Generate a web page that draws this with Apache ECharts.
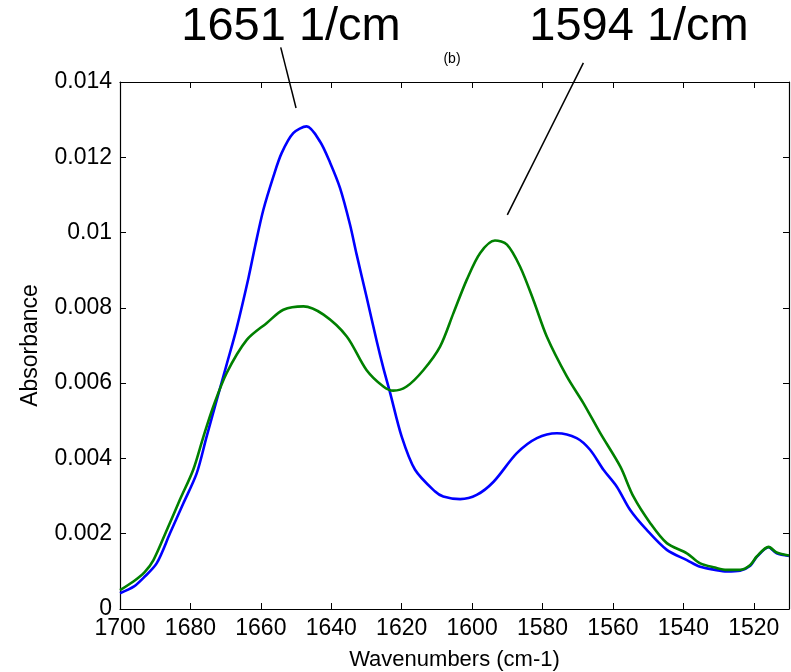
<!DOCTYPE html>
<html>
<head>
<meta charset="utf-8">
<script src="https://cdn.jsdelivr.net/npm/echarts@6/dist/echarts.min.js"></script>
<style>
html,body{margin:0;padding:0;background:#fff;}
#c{width:791px;height:672px;}
</style>
</head>
<body>
<div id="c"></div>
<script>
// ---- data ----
const xTicks = [1700, 1680, 1660, 1640, 1620, 1600, 1580, 1560, 1540, 1520];
const yTicks = [0, 0.002, 0.004, 0.006, 0.008, 0.01, 0.012, 0.014];
const yTickLabels = ['0', '0.002', '0.004', '0.006', '0.008', '0.01', '0.012', '0.014'];

const blueX = [1700, 1696, 1693.4, 1689.6, 1685.8, 1682, 1678.2, 1675.4, 1672.5, 1669.7, 1666.9, 1663.5, 1661.6, 1659.3, 1656.4, 1654.1, 1650.8, 1647, 1643.2, 1640.3, 1637.5, 1634.7, 1632.8, 1630, 1627.1, 1625.2, 1623.3, 1620, 1616.2, 1610.5, 1608.2, 1603.4, 1598.7, 1593.9, 1587.3, 1581.6, 1575.9, 1570.3, 1566.5, 1562.7, 1558.9, 1555.1, 1550.4, 1544.7, 1539, 1535.2, 1531, 1527.7, 1523.9, 1521, 1519.1, 1515.8, 1513.5, 1510];
const blueY = [0.00042, 0.00060, 0.00082, 0.00121, 0.00201, 0.00281, 0.00361, 0.00458, 0.00556, 0.00650, 0.00745, 0.00880, 0.00965, 0.0106, 0.0115, 0.01211, 0.01264, 0.01282, 0.01242, 0.01185, 0.01118, 0.01022, 0.00942, 0.0083, 0.00712, 0.00640, 0.00575, 0.00458, 0.0037, 0.00312, 0.00299, 0.00292, 0.00303, 0.00338, 0.00414, 0.00454, 0.00467, 0.00454, 0.00423, 0.0037, 0.00325, 0.00263, 0.0021, 0.00157, 0.0013, 0.00112, 0.00104, 0.00100, 0.00102, 0.00115, 0.00139, 0.00164, 0.00148, 0.00141];

const greenX = [1700, 1696.2, 1693, 1690.5, 1686.7, 1683, 1679.2, 1676.3, 1673.5, 1669.7, 1664, 1658.3, 1653.6, 1647.9, 1642.2, 1635.6, 1630, 1625.2, 1622.4, 1618.6, 1613.8, 1609.1, 1605.3, 1601.5, 1597.7, 1593.5, 1590.1, 1586.4, 1582.6, 1578.8, 1573.1, 1568.4, 1563.6, 1557.9, 1554.2, 1549.4, 1544.7, 1539, 1535.2, 1531, 1527.7, 1523.9, 1521, 1519.1, 1515.8, 1513.5, 1510];
const greenY = [0.00050, 0.00073, 0.00098, 0.0013, 0.0021, 0.0029, 0.0037, 0.00458, 0.00538, 0.00627, 0.00715, 0.0076, 0.00795, 0.00804, 0.00782, 0.00724, 0.00635, 0.00591, 0.00580, 0.00591, 0.00635, 0.00697, 0.00786, 0.00875, 0.00946, 0.00979, 0.00968, 0.0091, 0.00821, 0.00724, 0.00618, 0.00547, 0.00467, 0.00378, 0.00299, 0.00228, 0.00175, 0.00148, 0.00121, 0.00110, 0.00104, 0.00104, 0.00117, 0.00140, 0.00165, 0.00150, 0.00142];

// annotation labels and leader line ends (data coords)
const annoText = ['1651 1/cm', '1594 1/cm'];
const annoLines = [
  [[1654.35, 0.01492], [1650.0, 0.01331]],
  [[1568.4, 0.01451], [1590.0, 0.01047]]
];
const panelLabel = '(b)';

const FONT = '"Liberation Sans", Arial, Helvetica, sans-serif';
const chart = echarts.init(document.getElementById('c'), null, {renderer: 'canvas'});

function pairs(xs, ys) { return xs.map((x, i) => [x, ys[i]]); }

const axisLine = {show: true, onZero: false, lineStyle: {color: '#000', width: 1.2}};
const tick = {show: true, inside: true, length: 6, lineStyle: {color: '#000', width: 1}};

const option = {
  animation: false,
  backgroundColor: '#fff',
  grid: {left: 120, right: 2, top: 82, bottom: 63, containLabel: false, outerBoundsMode: 'none'},
  xAxis: [{
    type: 'value', inverse: true, min: 1510, max: 1700, position: 'bottom',
    axisLine: axisLine,
    axisTick: Object.assign({}, tick, {customValues: xTicks}),
    axisLabel: {customValues: xTicks, color: '#000', fontSize: 23, fontFamily: FONT, margin: 8,
      showMinLabel: true, showMaxLabel: true, formatter: v => String(v)},
    splitLine: {show: false},
    name: 'Wavenumbers (cm-1)', nameLocation: 'middle', nameGap: 40,
    nameTextStyle: {color: '#000', fontSize: 22, fontFamily: FONT}
  }, {
    type: 'value', inverse: true, min: 1510, max: 1700, position: 'top',
    axisLine: axisLine,
    axisTick: Object.assign({}, tick, {customValues: xTicks}),
    axisLabel: {show: false},
    splitLine: {show: false}
  }],
  yAxis: [{
    type: 'value', min: 0, max: 0.014, interval: 0.002, position: 'left',
    axisLine: axisLine,
    axisTick: tick,
    axisLabel: {color: '#000', fontSize: 23, fontFamily: FONT, margin: 8,
      formatter: v => { const i = yTicks.findIndex(t => Math.abs(t - v) < 1e-9); return i >= 0 ? yTickLabels[i] : ''; }},
    splitLine: {show: false},
    name: 'Absorbance', nameLocation: 'middle', nameGap: 78, nameRotate: 90,
    nameTextStyle: {color: '#000', fontSize: 23, fontFamily: FONT}
  }, {
    type: 'value', min: 0, max: 0.014, interval: 0.002, position: 'right',
    axisLine: axisLine,
    axisTick: tick,
    axisLabel: {show: false},
    splitLine: {show: false}
  }],
  series: [{
    type: 'line', name: 'blue', data: pairs(blueX, blueY), showSymbol: false,
    smooth: 0.3, lineStyle: {color: '#0000ff', width: 2.6}, z: 2
  }, {
    type: 'line', name: 'green', data: pairs(greenX, greenY), showSymbol: false,
    smooth: 0.3, lineStyle: {color: '#008000', width: 2.6}, z: 3
  }]
};
chart.setOption(option);

const p = pt => chart.convertToPixel({xAxisIndex: 0, yAxisIndex: 0}, pt);
const l1 = annoLines[0].map(p), l2 = annoLines[1].map(p);
chart.setOption({
  graphic: [
    {type: 'line', shape: {x1: l1[0][0], y1: l1[0][1], x2: l1[1][0], y2: l1[1][1]}, style: {stroke: '#000', lineWidth: 1.5}, z: 10},
    {type: 'line', shape: {x1: l2[0][0], y1: l2[0][1], x2: l2[1][0], y2: l2[1][1]}, style: {stroke: '#000', lineWidth: 1.5}, z: 10},
    {type: 'text', x: 291, y: 27, style: {text: annoText[0], font: '47px ' + FONT, fill: '#000', textAlign: 'center', textVerticalAlign: 'middle'}, z: 10},
    {type: 'text', x: 639, y: 27, style: {text: annoText[1], font: '47px ' + FONT, fill: '#000', textAlign: 'center', textVerticalAlign: 'middle'}, z: 10},
    {type: 'text', x: 452, y: 59, style: {text: panelLabel, font: '14px ' + FONT, fill: '#000', textAlign: 'center', textVerticalAlign: 'middle'}, z: 10}
  ]
});
</script>
</body>
</html>
